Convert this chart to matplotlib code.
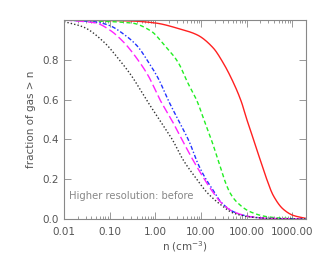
import numpy as np
import matplotlib
matplotlib.use("Agg")
import matplotlib.pyplot as plt
from matplotlib.ticker import LogLocator, NullFormatter

red_n = [0.01, 0.3, 1.0, 3.45, 8.3, 18.5, 30.6, 50.7, 77, 99.5, 139, 194, 272, 380, 630, 1050, 2000]
red_f = [1.0, 0.995, 0.985, 0.955, 0.925, 0.86, 0.785, 0.688, 0.588, 0.505, 0.405, 0.304, 0.204, 0.12, 0.05, 0.018, 0.003]

green_n = [0.01, 0.3, 0.8, 1.5, 3.2, 5.0, 8.3, 12, 18, 27, 37, 45, 60, 118, 272, 600, 2000]
green_f = [1.0, 0.985, 0.945, 0.88, 0.785, 0.69, 0.59, 0.49, 0.38, 0.255, 0.165, 0.125, 0.087, 0.037, 0.012, 0.004, 0.0]

blue_n = [0.01, 0.05, 0.1, 0.2, 0.4, 0.7, 1.2, 1.8, 3.2, 5.5, 8.5, 12.5, 18.5, 27, 51, 118, 300, 2000]
blue_f = [1.0, 0.99, 0.972, 0.93, 0.87, 0.79, 0.70, 0.61, 0.496, 0.39, 0.28, 0.205, 0.145, 0.087, 0.037, 0.012, 0.003, 0.0]

mag_n = [0.01, 0.05, 0.1, 0.2, 0.4, 0.7, 1.26, 2.3, 3.9, 6.7, 10.5, 17, 27, 51, 118, 300, 2000]
mag_f = [1.0, 0.985, 0.95, 0.89, 0.805, 0.72, 0.60, 0.496, 0.396, 0.296, 0.22, 0.145, 0.085, 0.037, 0.012, 0.003, 0.0]

blk_n = [0.01, 0.027, 0.075, 0.15, 0.3, 0.65, 1.26, 2.4, 4.1, 7.5, 14, 26, 51, 120, 400, 2000]
blk_f = [0.992, 0.964, 0.889, 0.81, 0.72, 0.596, 0.496, 0.396, 0.296, 0.21, 0.13, 0.075, 0.03, 0.01, 0.002, 0.0]

xticks = [0.01, 0.1, 1, 10, 100, 1000]
xticklabels = ["0.01", "0.10", "1.00", "10.00", "100.00", "1000.00"]
yticks = [0.0, 0.2, 0.4, 0.6, 0.8]
yticklabels = ["0.0", "0.2", "0.4", "0.6", "0.8"]


def pchip(x, y, xs):
    x = np.asarray(x, float); y = np.asarray(y, float)
    h = np.diff(x); d = np.diff(y) / h
    m = np.zeros_like(y)
    for k in range(1, len(x) - 1):
        if d[k - 1] * d[k] > 0:
            w1 = 2 * h[k] + h[k - 1]; w2 = h[k] + 2 * h[k - 1]
            m[k] = (w1 + w2) / (w1 / d[k - 1] + w2 / d[k])
    m[0] = d[0]; m[-1] = d[-1]
    idx = np.clip(np.searchsorted(x, xs) - 1, 0, len(x) - 2)
    t = (xs - x[idx]) / h[idx]
    h00 = 2*t**3 - 3*t**2 + 1; h10 = t**3 - 2*t**2 + t
    h01 = -2*t**3 + 3*t**2; h11 = t**3 - t**2
    return h00*y[idx] + h10*h[idx]*m[idx] + h01*y[idx+1] + h11*h[idx]*m[idx+1]


def smooth(n, f, k=400):
    lx = np.log10(n)
    xs = np.linspace(lx[0], lx[-1], k)
    return 10**xs, pchip(lx, f, xs)


tc = "#555555"
plt.rcParams['font.family'] = ['DejaVu Sans']
fig = plt.figure(figsize=(3.25, 2.6), dpi=100)
ax = fig.add_axes([64/325, 1-219/260, (306-64)/325, (219-20)/260])

ax.plot(*smooth(red_n, red_f), color="#ff2020", lw=1.0, ls="-")
ax.plot(*smooth(green_n, green_f), color="#22ee22", lw=1.0, ls=(0, (3, 2)))
ax.plot(*smooth(blue_n, blue_f), color="#2233ff", lw=1.0, ls=(0, (3, 1.5, 1, 1.5)))
ax.plot(*smooth(mag_n, mag_f), color="#ff22ff", lw=1.0, ls=(0, (6, 2.5)))
ax.plot(*smooth(blk_n, blk_f), color="#333333", lw=1.0, ls=(0, (1, 1.5)))

ax.set_xscale("log")
ax.set_xlim(0.01, 2000)
ax.set_ylim(0.0, 1.0)
ax.set_xticks(xticks)
ax.set_xticklabels(xticklabels)
ax.xaxis.set_minor_locator(LogLocator(base=10, subs=np.arange(2, 10), numticks=20))
ax.xaxis.set_minor_formatter(NullFormatter())
ax.set_yticks(yticks)
ax.set_yticklabels(yticklabels)

for s in ax.spines.values():
    s.set_color("#888888")
    s.set_linewidth(0.8)
ax.tick_params(which="both", direction="in", top=True, right=True, colors="#888888",
               labelcolor=tc, labelsize=7.5, width=0.6)
ax.tick_params(which="major", length=5)
ax.tick_params(which="minor", length=2.5)
ax.tick_params(axis="x", pad=6)

ax.set_xlabel("n (cm$^{-3}$)", color=tc, fontsize=7.5, labelpad=1)
ax.set_ylabel("fraction of gas > n", color=tc, fontsize=7.5, labelpad=5)
ax.text(0.013, 0.115, "Higher resolution: before", color="#888888", fontsize=7.2,
        transform=ax.transData, va="center", ha="left")

fig.savefig("out.png", dpi=100)
